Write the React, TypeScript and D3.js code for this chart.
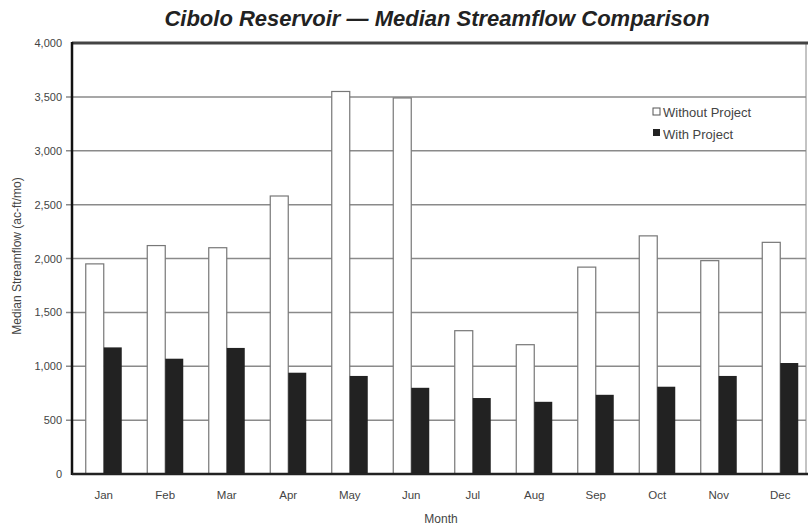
import React from "react";
import * as d3 from "d3";

const months = ["Jan", "Feb", "Mar", "Apr", "May", "Jun", "Jul", "Aug", "Sep", "Oct", "Nov", "Dec"];
const withoutProject = [1950, 2120, 2100, 2580, 3550, 3490, 1330, 1200, 1920, 2210, 1980, 2150];
const withProject = [1175, 1070, 1170, 940, 910, 800, 705, 670, 735, 810, 910, 1030];
const yTicks = [0, 500, 1000, 1500, 2000, 2500, 3000, 3500, 4000];
const seriesNames = ["Without Project", "With Project"];

export default function App() {
  const W = 808, H = 529;
  const left = 72, right = 806, top = 43, bottom = 474;
  const x = d3.scaleBand<string>().domain(months).range([left + 1, 811]).paddingInner(0).paddingOuter(0);
  const y = d3.scaleLinear().domain([0, 4000]).range([bottom, top]);
  const barW = 18;
  const fmt = d3.format(",");
  const font = "'Liberation Sans', Arial, sans-serif";
  return (
    <svg width={W} height={H} style={{ position: "absolute", left: 0, top: 0, background: "#fff" }} fontFamily={font}>
      <rect x={0} y={0} width={W} height={H} fill="#fff" />
      <text x={437} y={26} textAnchor="middle" fontSize={22} fontWeight="bold" fontStyle="italic" fill="#222">
        Cibolo Reservoir — Median Streamflow Comparison
      </text>
      {yTicks.map((t) => (
        <g key={t}>
          {t > 0 && t < 4000 && (
            <line x1={66} x2={right} y1={y(t)} y2={y(t)} stroke="#8a8a8a" strokeWidth={1.5} />
          )}
          <text x={62} y={y(t) + 4} textAnchor="end" fontSize={11} fill="#444">
            {fmt(t)}
          </text>
        </g>
      ))}
      {months.map((m, i) => {
        const cx = (x(m) as number) + x.bandwidth() / 2;
        return (
          <g key={m}>
            <rect x={cx - barW} y={y(withoutProject[i])} width={barW} height={bottom - y(withoutProject[i])} fill="#fff" stroke="#777" strokeWidth={1.2} />
            <rect x={cx} y={y(withProject[i])} width={barW} height={bottom - y(withProject[i])} fill="#222" />
            <text x={cx} y={499} textAnchor="middle" fontSize={11.5} fill="#444">{m}</text>
          </g>
        );
      })}
      <line x1={right} x2={right} y1={top} y2={bottom} stroke="#888" strokeWidth={1} />
      <line x1={left} x2={right + 2} y1={top} y2={top} stroke="#444" strokeWidth={3} />
      <line x1={left} x2={left} y1={top - 1} y2={bottom + 1} stroke="#111" strokeWidth={2.5} />
      <line x1={left} x2={right + 2} y1={bottom} y2={bottom} stroke="#222" strokeWidth={2.5} />
      <text x={441} y={523} textAnchor="middle" fontSize={12} fill="#444">Month</text>
      <text transform={`translate(21, 256) rotate(-90)`} textAnchor="middle" fontSize={12} fill="#444">
        Median Streamflow (ac-ft/mo)
      </text>
      <g>
        <rect x={653} y={108} width={7} height={7} fill="#fff" stroke="#555" strokeWidth={1} />
        <text x={663} y={117} fontSize={13} fill="#444">{seriesNames[0]}</text>
        <rect x={653} y={129} width={7} height={7} fill="#222" />
        <text x={663} y={139} fontSize={13} fill="#444">{seriesNames[1]}</text>
      </g>
    </svg>
  );
}
